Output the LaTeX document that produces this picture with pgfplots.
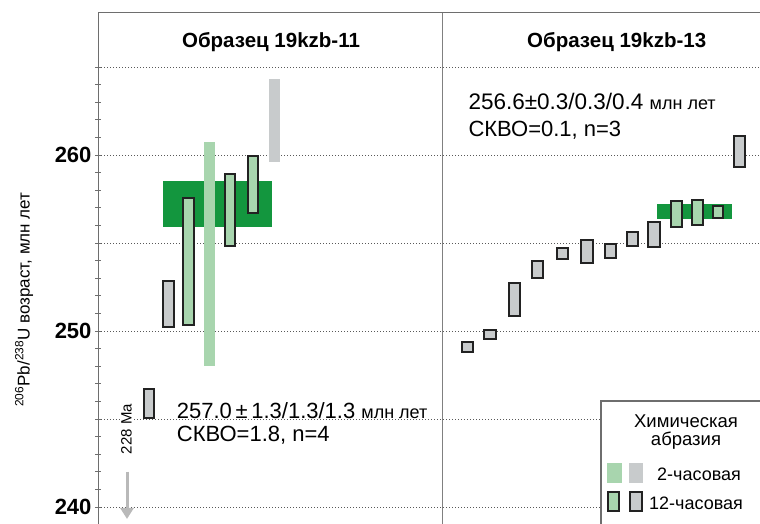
\documentclass[border=0pt]{standalone}
\usepackage{fontspec}
\setmainfont{Liberation Sans}
\usepackage{pgfplots}
\pgfplotsset{compat=1.18}
\usetikzlibrary{arrows.meta}
\definecolor{dkgreen}{RGB}{19,150,62}
\definecolor{ltgreen}{RGB}{168,213,174}
\definecolor{ltgray}{RGB}{200,203,204}
\definecolor{outl}{RGB}{34,34,34}
\definecolor{axgray}{RGB}{110,110,110}
\definecolor{arrgray}{RGB}{185,185,185}
\newcommand\rect[5]{\addplot[#5] coordinates {(#1,#3) (#2,#3) (#2,#4) (#1,#4)} --cycle;}
\newcommand\fs[1]{\fontsize{#1}{#1}\selectfont}
\tikzset{
  band/.style={fill=dkgreen, draw=none},
  lg/.style={fill=ltgreen, draw=none},
  lgr/.style={fill=ltgray, draw=none},
  olg/.style={fill=ltgreen, draw=outl, line width=2pt},
  ogr/.style={fill=ltgray, draw=outl, line width=2pt},
}
\begin{document}
\begin{tikzpicture}[x=1pt,y=1pt]
\path[use as bounding box] (0,0) rectangle (760,524);
\begin{axis}[at={(98pt,0pt)}, anchor=south west,
  width=662pt, height=511.3pt, scale only axis,
  xmin=98, xmax=760, ymin=239.03, ymax=268.08,
  axis x line*=top, axis y line*=left, xtick=\empty,
  ytick={240,245,...,265}, yticklabels={240,,250,,260,},
  minor y tick num=4,
  tick align=center, major tick length=6pt, minor tick length=6pt,
  tick style={axgray, line width=0.8pt},
  ymajorgrids, major grid style={outl!75, line width=0.8pt, dash pattern=on 1pt off 2pt},
  axis line style={axgray, line width=1pt},
  yticklabel style={font=\fs{22}\bfseries},
  /pgf/number format/assume math mode=true,
]
% divider
\addplot[gray, line width=1.5pt] coordinates {(442.7,239.03) (442.7,268.08)};
% left panel
\rect{162.7}{272.3}{255.9}{258.54}{band}
\rect{204.3}{215.3}{248.0}{260.76}{lg}
\rect{269}{280.3}{259.6}{264.3}{lgr}
\rect{143.7}{154}{245.06}{246.68}{ogr}
\rect{163}{174.3}{250.21}{252.84}{ogr}
\rect{183.3}{194}{250.31}{257.54}{olg}
\rect{225}{234.7}{254.82}{258.94}{olg}
\rect{248.3}{258}{256.71}{259.94}{olg}
% right panel
\rect{657.3}{732.3}{256.38}{257.2}{band}
\rect{461.7}{473}{248.83}{249.39}{ogr}
\rect{484.3}{495.7}{249.53}{250.05}{ogr}
\rect{509}{520.3}{250.87}{252.72}{ogr}
\rect{531.7}{543}{253.03}{253.97}{ogr}
\rect{556.7}{567.7}{254.06}{254.73}{ogr}
\rect{581}{592.7}{253.85}{255.18}{ogr}
\rect{604.7}{615.7}{254.13}{254.96}{ogr}
\rect{627}{638.3}{254.82}{255.6}{ogr}
\rect{648.3}{659.7}{254.78}{256.21}{ogr}
\rect{671}{681.7}{255.91}{257.38}{olg}
\rect{692}{702.7}{255.99}{257.44}{olg}
\rect{712.7}{723}{256.41}{257.08}{olg}
\rect{734.3}{745}{259.34}{261.06}{ogr}
\end{axis}
% titles
\node[font=\fs{20.5}\bfseries] at (271,482) {Образец 19kzb-11};
\node[font=\fs{20.5}\bfseries] at (616.7,482) {Образец 19kzb-13};
% annotations
\node[anchor=base west, font=\fs{22.5}, inner sep=0pt] at (468.3,414) {256.6±0.3/0.3/0.4 {\fs{18}млн лет}};
\node[anchor=base west, font=\fs{22}, inner sep=0pt] at (468.3,387.3) {СКВО=0.1, n=3};
\node[anchor=base west, font=\fs{22}, inner xsep=2pt, inner ysep=0pt, fill=white] at (174.7,105.7) {257.0\,±\,1.3/1.3/1.3 {\fs{18}млн лет}};
\node[anchor=base west, font=\fs{22}, inner sep=0pt] at (176.7,82) {СКВО=1.8, n=4};
% 228 Ma arrow
\draw[arrgray, line width=3pt, -{Triangle[width=13pt,length=11pt]}] (127,52.3) -- (127,5);
\node[rotate=90, font=\fs{15}, fill=white, inner sep=1pt] at (126.5,95) {228 Ma};
% y label
\node[rotate=90, anchor=west, font=\fs{17}, inner sep=0pt] at (24,117) {\textsuperscript{206}Pb/\textsuperscript{238}U возраст, млн лет};
% legend
\draw[axgray, line width=1.2pt, fill=white] (601,123) rectangle (790,-20);
\node[font=\fs{18.5}] at (686,103) {Химическая};
\node[font=\fs{18.5}] at (686,83) {абразия};
\fill[ltgreen] (606.7,61.3) rectangle (621.7,40.7);
\fill[ltgray] (629,61.3) rectangle (643.3,40.7);
\draw[outl, line width=2pt, fill=ltgreen] (607.7,32) rectangle (619,13.3);
\draw[outl, line width=2pt, fill=ltgray] (630.3,32) rectangle (641.7,13.3);
\node[anchor=base west, font=\fs{18}, inner sep=0pt] at (657,43) {2-часовая};
\node[anchor=base west, font=\fs{18}, inner sep=0pt] at (649,14) {12-часовая};
\end{tikzpicture}
\end{document}
